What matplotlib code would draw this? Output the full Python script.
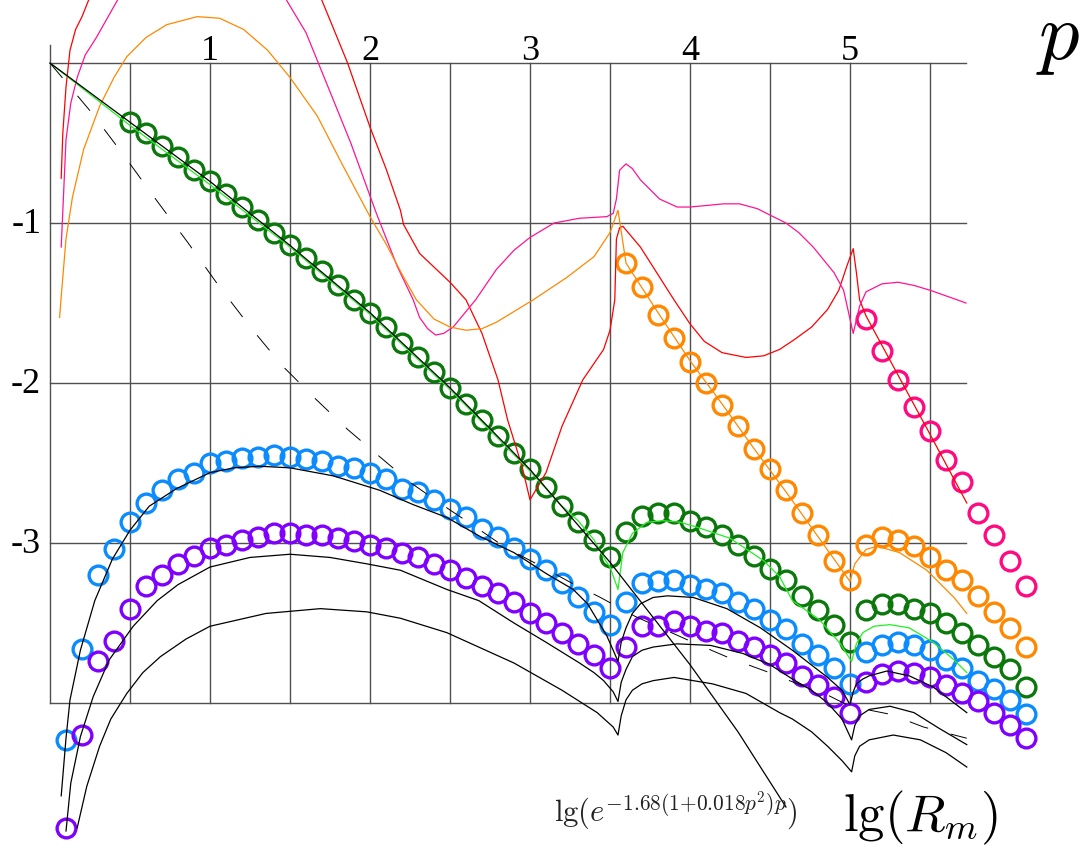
import matplotlib.pyplot as plt

plt.rcParams["mathtext.fontset"] = "cm"
plt.rcParams["font.family"] = ["Liberation Serif", "DejaVu Serif"]

# ---- circle series (p, lg R) ----
green_p = [0.5, 0.6, 0.7, 0.8, 0.9, 1.0, 1.1, 1.2, 1.3, 1.4, 1.5, 1.6, 1.7, 1.8, 1.9,
           2.0, 2.1, 2.2, 2.3, 2.4, 2.5, 2.6, 2.7, 2.8, 2.9, 3.0, 3.1, 3.2, 3.3, 3.4, 3.5,
           3.6, 3.7, 3.8, 3.9, 4.0, 4.1, 4.2, 4.3, 4.4, 4.5, 4.6, 4.7, 4.8, 4.9, 5.0,
           5.1, 5.2, 5.3, 5.4, 5.5, 5.6, 5.7, 5.8, 5.9, 6.0, 6.1]
green_y = [-0.37, -0.44, -0.52, -0.59, -0.67, -0.74, -0.82, -0.90, -0.98, -1.06, -1.14,
           -1.22, -1.30, -1.39, -1.48, -1.56, -1.65, -1.75, -1.84, -1.93, -2.03, -2.13,
           -2.23, -2.33, -2.44, -2.54, -2.65, -2.77, -2.87, -2.98, -3.09,
           -2.93, -2.83, -2.81, -2.81, -2.86, -2.90, -2.95, -3.01, -3.08, -3.16, -3.23,
           -3.33, -3.42, -3.51, -3.62,
           -3.42, -3.38, -3.38, -3.41, -3.44, -3.50, -3.56, -3.64, -3.71, -3.79, -3.90]

blue_p = [0.1, 0.2, 0.3, 0.4, 0.5, 0.6, 0.7, 0.8, 0.9, 1.0, 1.1, 1.2, 1.3, 1.4, 1.5,
          1.6, 1.7, 1.8, 1.9, 2.0, 2.1, 2.2, 2.3, 2.4, 2.5, 2.6, 2.7, 2.8, 2.9, 3.0,
          3.1, 3.2, 3.3, 3.4, 3.5, 3.6, 3.7, 3.8, 3.9, 4.0, 4.1, 4.2, 4.3, 4.4, 4.5,
          4.6, 4.7, 4.8, 4.9, 5.0, 5.1, 5.2, 5.3, 5.4, 5.5, 5.6, 5.7, 5.8, 5.9, 6.0, 6.1]
blue_y = [-4.23, -3.66, -3.20, -3.04, -2.87, -2.75, -2.67, -2.60, -2.56, -2.50, -2.49,
          -2.47, -2.46, -2.45, -2.46, -2.475, -2.49, -2.52, -2.53, -2.56, -2.60, -2.66,
          -2.68, -2.73, -2.79, -2.84, -2.91, -2.96, -3.03, -3.10, -3.17, -3.25, -3.34,
          -3.43, -3.51, -3.37, -3.25, -3.24, -3.23, -3.26, -3.29, -3.31, -3.37, -3.41,
          -3.48, -3.54, -3.63, -3.70, -3.78, -3.88, -3.68, -3.64, -3.62, -3.64, -3.67,
          -3.73, -3.78, -3.86, -3.91, -3.98, -4.07]

purple_p = blue_p
purple_y = [-4.78, -4.20, -3.74, -3.61, -3.41, -3.27, -3.20, -3.13, -3.08, -3.03, -3.01,
            -2.98, -2.96, -2.94, -2.94, -2.95, -2.95, -2.97, -2.99, -3.01, -3.03, -3.06,
            -3.09, -3.13, -3.17, -3.22, -3.27, -3.31, -3.37, -3.44, -3.50, -3.56, -3.63,
            -3.70, -3.78, -3.65, -3.52, -3.52, -3.49, -3.52, -3.55, -3.56, -3.61, -3.65,
            -3.70, -3.75, -3.83, -3.89, -3.96, -4.06, -3.87, -3.82, -3.80, -3.81, -3.84,
            -3.89, -3.94, -3.99, -4.06, -4.14, -4.22]

orange_p = [3.6, 3.7, 3.8, 3.9, 4.0, 4.1, 4.2, 4.3, 4.4, 4.5, 4.6, 4.7, 4.8, 4.9, 5.0,
            5.1, 5.2, 5.3, 5.4, 5.5, 5.6, 5.7, 5.8, 5.9, 6.0, 6.1]
orange_y = [-1.25, -1.40, -1.575, -1.72, -1.87, -2.00, -2.14, -2.27, -2.41, -2.54, -2.67,
            -2.81, -2.95, -3.11, -3.23, -3.01, -2.96, -2.98, -3.02, -3.09, -3.17, -3.23,
            -3.33, -3.43, -3.53, -3.65]

pink_p = [5.1, 5.2, 5.3, 5.4, 5.5, 5.6, 5.7, 5.8, 5.9, 6.0, 6.1]
pink_y = [-1.60, -1.80, -1.98, -2.15, -2.30, -2.48, -2.62, -2.81, -2.95, -3.11, -3.27]

# ---- thin curves ----
red_x = [0.07, 0.08, 0.1, 0.125, 0.16, 0.2, 0.24, 0.27, 1.66, 1.70, 1.77, 1.86, 2.0,
         2.1, 2.19, 2.21, 2.31, 2.5, 2.6, 2.7, 2.8, 2.86, 2.95, 3.0, 3.1, 3.2, 3.33,
         3.46, 3.5, 3.53, 3.54, 3.56, 3.58, 3.69, 3.9, 4.0, 4.09, 4.2, 4.35, 4.46,
         4.56, 4.65, 4.76, 4.86, 4.93, 4.98, 5.02, 5.04, 5.06, 5.1, 5.3, 5.5, 5.73]
red_y = [-0.72, -0.44, -0.15, 0.08, 0.21, 0.29, 0.39, 0.48, 0.48, 0.39, 0.22, 0.0,
         -0.40, -0.66, -0.92, -1.01, -1.19, -1.37, -1.48, -1.69, -1.98, -2.23, -2.52,
         -2.73, -2.56, -2.27, -1.98, -1.79, -1.67, -1.48, -1.10, -1.03, -1.02, -1.15,
         -1.48, -1.63, -1.74, -1.81, -1.84, -1.83, -1.79, -1.73, -1.65, -1.54, -1.42,
         -1.27, -1.16, -1.31, -1.48, -1.58, -1.95, -2.32, -2.75]

pinkline_x = [0.07, 0.1, 0.13, 0.17, 0.22, 0.29, 0.42, 0.47, 1.44, 1.48, 1.6, 1.73,
              1.88, 2.04, 2.17, 2.27, 2.31, 2.36, 2.41, 2.46, 2.52, 2.66, 2.79, 2.9,
              3.0, 3.15, 3.31, 3.48, 3.52, 3.54, 3.56, 3.6, 3.64, 3.69, 3.81, 3.92,
              4.0, 4.21, 4.31, 4.42, 4.56, 4.6, 4.68, 4.77, 4.9, 4.96, 5.0, 5.02,
              5.06, 5.1, 5.2, 5.3, 5.4, 5.5, 5.67, 5.725]
pinkline_y = [-1.15, -0.48, -0.25, -0.09, 0.05, 0.16, 0.39, 0.48, 0.48, 0.39, 0.19,
              -0.13, -0.50, -0.94, -1.27, -1.48, -1.59, -1.66, -1.70, -1.69, -1.65,
              -1.48, -1.29, -1.17, -1.09, -1.00, -0.97, -0.96, -0.94, -0.85, -0.67,
              -0.63, -0.66, -0.73, -0.85, -0.90, -0.90, -0.88, -0.88, -0.91, -0.98,
              -1.00, -1.06, -1.15, -1.31, -1.42, -1.60, -1.69, -1.52, -1.43, -1.38,
              -1.37, -1.39, -1.42, -1.48, -1.50]

orangeline_x = [0.06, 0.07, 0.1, 0.14, 0.21, 0.31, 0.4, 0.48, 0.6, 0.73, 0.92, 1.06,
                1.21, 1.36, 1.5, 1.67, 1.83, 2.0, 2.1, 2.2, 2.29, 2.4, 2.5, 2.6, 2.7,
                2.79, 3.02, 3.23, 3.4, 3.5, 3.55, 3.6, 3.8, 4.0, 4.2, 4.4, 4.6, 4.8,
                5.0, 5.03, 5.1, 5.17, 5.31, 5.48, 5.65, 5.73]
orangeline_y = [-1.59, -1.46, -1.10, -0.84, -0.54, -0.27, -0.09, 0.04, 0.16, 0.24,
                0.29, 0.28, 0.21, 0.08, -0.09, -0.33, -0.64, -0.96, -1.13, -1.32,
                -1.48, -1.60, -1.65, -1.67, -1.66, -1.62, -1.48, -1.34, -1.21, -1.06,
                -0.92, -1.25, -1.56, -1.86, -2.13, -2.41, -2.68, -2.96, -3.24, -3.13,
                -3.04, -3.02, -3.06, -3.17, -3.34, -3.44]

lightgreen_x = [0.0, 0.5, 1.0, 1.5, 2.0, 2.5, 3.0, 3.19, 3.3, 3.4, 3.46, 3.5, 3.55,
                3.58, 3.64, 3.73, 3.83, 3.94, 4.04, 4.25, 4.46, 4.56, 4.64, 4.81, 4.94,
                5.01, 5.04, 5.08, 5.15, 5.25, 5.37, 5.52, 5.65, 5.73]
lightgreen_y = [0.0, -0.39, -0.76, -1.15, -1.57, -2.04, -2.55, -2.76, -2.86, -2.98,
                -3.09, -3.15, -3.29, -3.06, -2.94, -2.87, -2.86, -2.87, -2.90, -2.97,
                -3.11, -3.21, -3.36, -3.48, -3.63, -3.74, -3.63, -3.56, -3.52, -3.51,
                -3.53, -3.62, -3.73, -3.81]

# lg(e^{-1.68(1+0.018p^2)p}) as drawn
formula_x = [0.0, 0.5, 1.0, 1.5, 2.0, 2.5, 3.0, 3.5, 4.0, 4.3, 4.6]
formula_y = [0.0, -0.37, -0.74, -1.14, -1.56, -2.03, -2.54, -3.12, -3.76, -4.18, -4.65]

dashed_x = [0.0, 0.26, 0.46, 0.66, 0.86, 1.06, 1.26, 1.45, 1.65, 1.86, 2.06, 2.25,
            2.45, 2.66, 2.85, 3.06, 3.26, 3.44, 3.66, 4.04, 4.25, 4.47, 4.66, 4.86,
            5.0, 5.25, 5.46, 5.73]
dashed_y = [0.0, -0.31, -0.575, -0.85, -1.12, -1.40, -1.66, -1.89, -2.09, -2.29,
            -2.46, -2.62, -2.76, -2.90, -3.03, -3.14, -3.25, -3.34, -3.46, -3.63,
            -3.72, -3.80, -3.875, -3.95, -4.02, -4.07, -4.15, -4.22]

black1_x = [0.07, 0.1, 0.125, 0.19, 0.28, 0.39, 0.5, 0.62, 0.79, 1.0, 1.15, 1.31, 1.5,
            1.77, 2.06, 2.27, 2.48, 2.69, 2.9, 3.1, 3.27, 3.36, 3.42, 3.48, 3.52, 3.55,
            3.57, 3.6, 3.64, 3.69, 3.77, 3.86, 4.02, 4.23, 4.44, 4.64, 4.86, 4.95,
            5.0, 5.02, 5.04, 5.08, 5.12, 5.23, 5.37, 5.52, 5.73]
black1_y = [-4.58, -4.22, -3.98, -3.67, -3.36, -3.10, -2.92, -2.77, -2.66, -2.56,
            -2.53, -2.52, -2.53, -2.58, -2.67, -2.76, -2.84, -2.96, -3.06, -3.19,
            -3.29, -3.38, -3.48, -3.58, -3.67, -3.74, -3.62, -3.53, -3.44, -3.38,
            -3.34, -3.33, -3.34, -3.41, -3.53, -3.67, -3.84, -3.92, -4.01, -3.93,
            -3.88, -3.85, -3.83, -3.80, -3.83, -3.90, -4.06]

black2_x = [0.1, 0.13, 0.19, 0.27, 0.37, 0.52, 0.67, 0.8, 1.0, 1.25, 1.5, 1.75, 1.98,
            2.19, 2.48, 2.68, 2.9, 3.1, 3.31, 3.4, 3.46, 3.52, 3.55, 3.57, 3.6, 3.64,
            3.7, 3.77, 3.92, 4.13, 4.33, 4.5, 4.64, 4.76, 4.86, 4.95, 5.01, 5.03,
            5.06, 5.12, 5.25, 5.4, 5.56, 5.73]
black2_y = [-4.80, -4.50, -4.21, -3.96, -3.73, -3.52, -3.36, -3.26, -3.15, -3.09,
            -3.07, -3.09, -3.13, -3.17, -3.29, -3.36, -3.50, -3.62, -3.75, -3.81,
            -3.86, -3.93, -3.99, -3.87, -3.79, -3.71, -3.67, -3.65, -3.63, -3.64,
            -3.69, -3.76, -3.85, -3.92, -4.00, -4.10, -4.23, -4.14, -4.08, -4.04,
            -4.02, -4.06, -4.16, -4.26]

black3_x = [0.17, 0.23, 0.31, 0.38, 0.48, 0.58, 0.69, 0.85, 1.0, 1.35, 1.69, 1.98,
            2.19, 2.48, 2.9, 3.2, 3.42, 3.52, 3.55, 3.57, 3.6, 3.64, 3.7, 3.77, 3.9,
            4.14, 4.35, 4.56, 4.64, 4.76, 4.86, 4.95, 5.01, 5.03, 5.06, 5.12, 5.27,
            5.44, 5.6, 5.73]
black3_y = [-4.78, -4.52, -4.27, -4.10, -3.94, -3.81, -3.71, -3.60, -3.52, -3.44,
            -3.41, -3.43, -3.47, -3.56, -3.75, -3.92, -4.06, -4.15, -4.20, -4.08,
            -3.98, -3.92, -3.88, -3.86, -3.84, -3.88, -3.94, -4.06, -4.10, -4.18,
            -4.27, -4.36, -4.43, -4.33, -4.27, -4.23, -4.20, -4.23, -4.31, -4.40]

top_labels = ["1", "2", "3", "4", "5"]
left_labels = ["-1", "-2", "-3"]

fig = plt.figure(figsize=(10.86, 8.56), dpi=100)
ax = fig.add_axes([0, 0, 1, 1])
ax.set_xlim(-0.3125, 6.475)
ax.set_ylim(-4.956, 0.394)
ax.axis("off")

# grid
grid_c = "#505050"
for yv in [0, -1, -2, -3, -4]:
    ax.plot([0, 5.725], [yv, yv], color=grid_c, lw=1.0, zorder=1)
for xv in [0.5, 1.0, 1.5, 2.0, 2.5, 3.0, 3.5, 4.0, 4.5, 5.0, 5.5]:
    ax.plot([xv, xv], [-4, 0], color=grid_c, lw=1.0, zorder=1)
ax.plot([0, 0], [-4, 0.11], color=grid_c, lw=1.0, zorder=1)

for i, lab in enumerate(top_labels):
    ax.text(i + 1, 0.02, lab, fontsize=26, ha="center", va="baseline")
for i, lab in enumerate(left_labels):
    ax.text(-0.055, -(i + 1) - 0.01, lab, fontsize=26, ha="right", va="center")

# circles
ring = dict(ls="none", marker="o", ms=13.5, mew=2.4, mfc="none", zorder=2)
ax.plot(green_p, green_y, mec="#0b780b", **ring)
ax.plot(blue_p, blue_y, mec="#0a8cff", **ring)
ax.plot(purple_p, purple_y, mec="#8000ff", **ring)
ax.plot(orange_p, orange_y, mec="#ff8800", **ring)
ax.plot(pink_p, pink_y, mec="#ff0a80", **ring)

# thin curves
ax.plot(red_x, red_y, color="#ff0000", lw=0.9, zorder=3)
ax.plot(pinkline_x, pinkline_y, color="#ff1493", lw=0.9, zorder=3)
ax.plot(orangeline_x, orangeline_y, color="#ff8800", lw=0.9, zorder=3)
ax.plot(lightgreen_x, lightgreen_y, color="#22ee22", lw=0.9, zorder=3)
ax.plot(formula_x, formula_y, color="black", lw=0.9, zorder=3)
ax.plot(dashed_x, dashed_y, color="black", lw=0.7, dashes=(20, 24), zorder=3)
for bx, by in [(black1_x, black1_y), (black2_x, black2_y), (black3_x, black3_y)]:
    ax.plot(bx, by, color="black", lw=0.9, zorder=3)

ax.text(6.3, 0.14, r"$p$", fontsize=58, ha="center", va="center")
ax.text(5.44, -4.72, r"$\mathrm{lg}(R_m)$", fontsize=38, ha="center", va="center")
ax.text(3.91, -4.68, r"$\mathrm{lg}(e^{-1.68(1{+}0.018p^2)p})$", fontsize=22,
        ha="center", va="center", color="#222222")

plt.savefig("out.png", dpi=100)
